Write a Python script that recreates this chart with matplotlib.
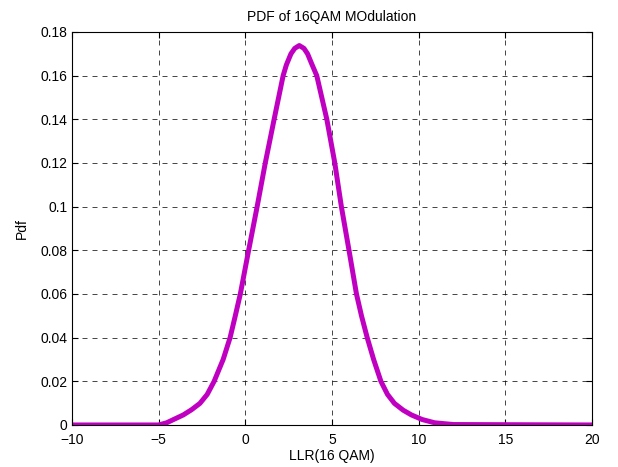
import matplotlib

matplotlib.use("Agg")
import matplotlib.pyplot as plt

# values
llr = [-10, -5, -4.54, -3.58, -3.1, -2.62, -2.2, -1.8, -1.28, -0.88, -0.58,
       -0.29, 0.19, 0.68, 1.15, 1.66, 2.18, 2.37, 2.63, 2.85, 3.11, 3.38,
       3.59, 3.85, 4.12, 4.70, 5.16, 5.54, 5.98, 6.41, 6.70, 7.03, 7.40,
       7.82, 8.2, 8.6, 9.1, 9.58, 10.2, 10.92, 12, 20]
pdf = [0, 0, 0.001, 0.0046, 0.007, 0.0099, 0.014, 0.02, 0.03, 0.04, 0.05,
       0.06, 0.08, 0.10, 0.12, 0.14, 0.16, 0.165, 0.17, 0.1725, 0.1738, 0.1725,
       0.17, 0.165, 0.16, 0.14, 0.12, 0.10, 0.08, 0.06, 0.05, 0.04, 0.03,
       0.02, 0.014, 0.0099, 0.0068, 0.0046, 0.0025, 0.001, 0.0002, 0]

x_ticks = [-10, -5, 0, 5, 10, 15, 20]
y_ticks = [0, 0.02, 0.04, 0.06, 0.08, 0.1, 0.12, 0.14, 0.16, 0.18]
y_labels = ["0", "0.02", "0.04", "0.06", "0.08", "0.1", "0.12", "0.14", "0.16", "0.18"]

plt.rcParams["font.family"] = ["Liberation Sans", "DejaVu Sans"]
plt.rcParams["font.size"] = 10

fig = plt.figure(figsize=(6.18, 4.67), dpi=100)
ax = fig.add_axes([0.1165, 0.09, 0.8415, 0.8415])

ax.plot(llr, pdf, color="#c000c0", linewidth=3.6, solid_joinstyle="round")

ax.set_xlim(-10, 20)
ax.set_ylim(0, 0.18)
ax.set_xticks(x_ticks)
ax.set_yticks(y_ticks)
ax.set_yticklabels(y_labels)
ax.tick_params(direction="in", length=4, width=0.8, top=True, right=True)
ax.tick_params(axis="x", pad=6)
ax.grid(True, color="black", linestyle=(0, (6, 6)), linewidth=0.6, alpha=0.85)
for spine in ax.spines.values():
    spine.set_linewidth(0.8)

ax.set_title("PDF of 16QAM MOdulation", fontsize=10, pad=8)
ax.set_xlabel("LLR(16 QAM)", fontsize=10, labelpad=1)
ax.set_ylabel("Pdf", fontsize=10, labelpad=8)

fig.savefig("out.png", dpi=100)
